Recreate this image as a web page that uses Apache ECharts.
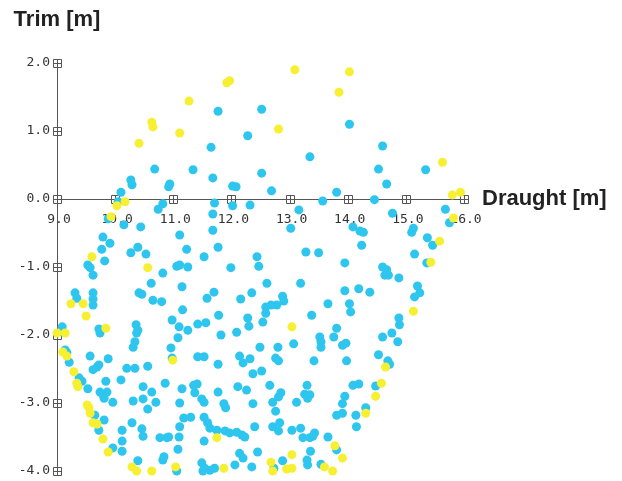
<!DOCTYPE html>
<html>
<head>
<meta charset="utf-8">
<script src="https://cdn.jsdelivr.net/npm/echarts@6/dist/echarts.min.js"></script>
<style>
  html, body { margin: 0; padding: 0; background: #ffffff; }
  #chart { width: 622px; height: 481px; }
</style>
</head>
<body>
<div id="chart"></div>
<script>
// Axis ticks
const draughtTicks = [9, 10, 11, 12, 13, 14, 15, 16];
const trimTicks = [-4, -3, -2, -1, 0, 1, 2];

// Loading conditions inside the envelope [draught m, trim m]
const innerPoints = [
  [11.77,1.29],[12.52,1.32],[12.28,0.93],[11.65,0.76],[13.35,0.62],[10.68,0.44],[11.34,0.43],[12.52,0.38],
  [11.68,0.31],[10.27,0.28],[10.29,0.21],[10.94,0.22],[10.92,0.18],[12.02,0.19],[12.08,0.18],[12.69,0.12],
  [10.10,0.10],[14.03,1.10],[14.60,0.78],[14.53,0.44],[15.34,0.43],[14.67,0.22],[13.81,0.10],
  [10.05,-0.04],[9.88,-0.29],[11.71,-0.06],[12.32,-0.09],[10.82,-0.07],[10.74,-0.15],[12.02,-0.10],[13.16,-0.16],
  [11.68,-0.22],[10.15,-0.38],[10.44,-0.41],[11.68,-0.46],[11.11,-0.53],[13.02,-0.43],[9.79,-0.56],[9.91,-0.65],
  [13.57,-0.03],[14.46,-0.01],[14.77,-0.21],[15.68,-0.15],[15.75,-0.35],[14.09,-0.41],[14.21,-0.47],[14.27,-0.49],
  [15.10,-0.49],[15.13,-0.43],[15.37,-0.57],[15.46,-0.68],[14.24,-0.68],
  [9.77,-0.74],[10.39,-0.71],[10.53,-0.81],[10.27,-0.79],[9.82,-0.91],[9.53,-0.97],[9.57,-1.01],[9.62,-1.12],
  [11.23,-0.74],[11.77,-0.71],[11.53,-0.85],[11.06,-0.99],[11.11,-0.97],[11.25,-1.00],[11.99,-1.01],[10.82,-1.09],
  [12.44,-0.85],[12.47,-0.99],[13.28,-0.78],[13.50,-0.79],[13.95,-0.94],[15.15,-0.81],[14.60,-1.00],[14.67,-1.04],
  [14.64,-1.12],[14.70,-1.12],[14.88,-1.16],[15.36,-0.94],[10.62,-1.24],[11.15,-1.29],[11.70,-1.37],[10.41,-1.38],
  [10.46,-1.40],[9.31,-1.38],[9.34,-1.46],[9.62,-1.38],[9.62,-1.47],[9.62,-1.56],[10.65,-1.49],[11.58,-1.46],
  [12.16,-1.47],[12.35,-1.38],[12.61,-1.24],[13.19,-1.24],[13.95,-1.35],[14.19,-1.32],[14.38,-1.37],[15.20,-1.28],
  [15.24,-1.38],[15.15,-1.44],[12.88,-1.43],[12.90,-1.50],
  [10.80,-1.51],[12.59,-1.59],[12.68,-1.56],[12.78,-1.56],[13.66,-1.54],[14.03,-1.54],[14.05,-1.66],[11.16,-1.63],
  [11.78,-1.71],[13.38,-1.71],[10.98,-1.78],[11.10,-1.88],[11.25,-1.93],[11.42,-1.84],[11.56,-1.82],[12.28,-1.75],
  [12.30,-1.87],[12.09,-1.96],[11.82,-2.00],[12.59,-1.68],[12.54,-1.81],[14.88,-1.75],[14.89,-1.85],[14.60,-2.03],
  [14.76,-1.97],[14.86,-2.10],[13.81,-1.90],[13.76,-2.03],[13.52,-2.03],[13.54,-2.10],[13.54,-2.18],[13.97,-2.12],
  [13.91,-2.15],[12.80,-2.18],[13.07,-2.13],[12.49,-2.18],[9.09,-1.88],[9.10,-1.96],[9.72,-1.91],[9.74,-1.97],
  [10.36,-1.85],[10.39,-1.93],[10.37,-1.97],[10.34,-2.10],[10.31,-2.18],[11.08,-2.04],[10.96,-2.19],[10.98,-2.34],
  [11.42,-2.32],[11.53,-2.32],[11.77,-2.43],[12.14,-2.31],[12.20,-2.41],[12.32,-2.35],[12.76,-2.34],[12.81,-2.38],
  [13.42,-2.38],[13.98,-2.38],[14.53,-2.29],[14.69,-2.38],[14.72,-2.43],[9.14,-2.22],[9.17,-2.26],[9.21,-2.40],
  [9.57,-2.31],[9.88,-2.35],
  [9.69,-2.47],[9.72,-2.44],[9.62,-2.51],[10.20,-2.49],[10.34,-2.49],[10.56,-2.46],[9.38,-2.63],[9.43,-2.68],
  [9.53,-2.79],[9.84,-2.68],[10.10,-2.66],[9.74,-2.84],[9.79,-2.88],[9.86,-2.84],[9.81,-2.93],[9.96,-2.99],
  [10.48,-2.76],[10.63,-2.84],[10.31,-2.97],[10.48,-2.94],[10.70,-2.99],[10.86,-2.71],[11.15,-2.79],[11.35,-2.74],
  [11.41,-2.72],[11.37,-2.85],[11.49,-2.94],[11.53,-2.99],[11.77,-2.84],[12.11,-2.76],[12.26,-2.81],[11.87,-3.01],
  [11.90,-3.07],[12.37,-3.01],[11.11,-3.00],[10.56,-3.09],[12.37,-2.57],[12.52,-2.53],[12.66,-2.74],[12.85,-2.85],
  [12.81,-2.91],[12.71,-2.99],[13.30,-2.74],[13.26,-2.87],[13.35,-2.88],[13.31,-2.93],[13.12,-2.99],[12.76,-3.12],
  [13.95,-2.90],[13.91,-3.01],[14.09,-2.74],[14.19,-2.72],[14.48,-2.75],[14.31,-3.07],[14.14,-3.18],[13.81,-3.18],
  [13.91,-3.15],[9.65,-3.18],[9.81,-3.25],[11.18,-3.22],[11.30,-3.21],[11.53,-3.21],[11.59,-3.29],
  [9.72,-3.40],[10.12,-3.40],[10.29,-3.29],[10.46,-3.38],[10.48,-3.49],[10.12,-3.56],[11.63,-3.37],[11.11,-3.35],
  [11.53,-3.56],[11.75,-3.40],[11.89,-3.41],[11.97,-3.44],[12.09,-3.43],[12.18,-3.47],[12.23,-3.50],[12.40,-3.35],
  [12.71,-3.35],[12.83,-3.29],[12.81,-3.41],[13.04,-3.40],[13.19,-3.37],[13.23,-3.51],[13.43,-3.44],[13.40,-3.49],
  [13.35,-3.51],[13.66,-3.50],[14.15,-3.35],[10.77,-3.51],[10.89,-3.51],[10.92,-3.50],[11.10,-3.50],[9.96,-3.66],
  [10.12,-3.71],[11.08,-3.68],[10.84,-3.79],[10.82,-3.84],[12.14,-3.74],[12.20,-3.81],[12.45,-3.72],[10.39,-3.85],
  [13.81,-3.69],[13.36,-3.71],[12.88,-3.85],[13.30,-3.84],[13.31,-3.91],[13.54,-3.90],[11.49,-3.88],[11.54,-3.96],
  [11.63,-3.99],[11.71,-3.96],[11.51,-4.00],[12.06,-3.91],[12.35,-3.94],[12.73,-3.96],[11.06,-4.00]
];

// Loading conditions on the envelope boundary [draught m, trim m]
const boundaryPoints = [
  [13.09,1.90],[11.92,1.71],[11.97,1.74],[11.27,1.44],[10.63,1.13],[10.65,1.06],[11.11,0.97],[10.41,0.82],
  [12.81,1.03],[10.03,-0.10],[10.17,-0.04],[9.93,-0.26],[14.03,1.87],[13.85,1.57],[15.63,0.54],[15.80,0.06],
  [15.94,0.10],[15.82,-0.28],[15.58,-0.62],[15.43,-0.93],[9.60,-0.85],[10.56,-1.01],[9.24,-1.54],[9.45,-1.54],
  [9.50,-1.72],[9.84,-1.90],[9.00,-1.97],[9.14,-1.97],[13.04,-1.88],[9.10,-2.25],[9.17,-2.31],[10.99,-2.37],
  [9.29,-2.54],[9.34,-2.71],[9.36,-2.76],[9.52,-3.03],[9.55,-3.07],[9.57,-3.15],[9.62,-3.29],[9.69,-3.31],
  [9.79,-3.53],[9.88,-3.72],[10.29,-3.94],[10.37,-4.00],[10.63,-4.00],[11.04,-3.94],[11.75,-3.51],[11.87,-3.96],
  [12.68,-3.87],[12.71,-4.00],[12.95,-3.97],[13.04,-3.96],[13.04,-3.76],[13.60,-3.94],[13.74,-4.00],[13.78,-3.63],
  [13.91,-3.81],[14.31,-3.15],[14.58,-2.71],[14.48,-2.90],[14.65,-2.47],[15.13,-1.65]
];

const innerColor = '#2ec6ee';
const boundaryColor = '#f7f032';
const axisColor = '#555555';
const labelColor = '#333333';

// Square "⊞" tick markers on both axes
const tickMarks = draughtTicks.slice(1).map(d => [d, 0]).concat(trimTicks.map(t => [draughtTicks[0], t]));
// Draught tick labels sit under the zero-trim line
const draughtLabels = draughtTicks.map(d => [d, 0, d.toFixed(1)]);

const chart = echarts.init(document.getElementById('chart'), null, { renderer: 'canvas' });

chart.setOption({
  animation: false,
  backgroundColor: '#ffffff',
  grid: { left: 57, right: 158, top: 63, bottom: 10, containLabel: false, outerBoundsMode: 'none' },
  xAxis: {
    type: 'value',
    min: draughtTicks[0],
    max: draughtTicks[draughtTicks.length - 1],
    interval: 1,
    name: 'Draught [m]',
    nameLocation: 'end',
    nameGap: 18,
    nameTextStyle: { fontFamily: 'Liberation Sans', fontWeight: 'bold', fontSize: 22, color: '#222222', verticalAlign: 'middle' },
    axisLine: { onZero: true, lineStyle: { color: axisColor, width: 1 } },
    axisTick: { show: false },
    splitLine: { show: false },
    axisLabel: { show: false }
  },
  yAxis: {
    type: 'value',
    min: trimTicks[0],
    max: trimTicks[trimTicks.length - 1],
    interval: 1,
    name: 'Trim [m]',
    nameLocation: 'end',
    nameGap: 32,
    nameTextStyle: { fontFamily: 'Liberation Sans', fontWeight: 'bold', fontSize: 22, color: '#222222', align: 'center' },
    axisLine: { onZero: false, lineStyle: { color: axisColor, width: 1 } },
    axisTick: { show: false },
    splitLine: { show: false },
    axisLabel: {
      margin: 7, showMinLabel: true, showMaxLabel: true,
      formatter: v => v.toFixed(1),
      fontFamily: 'DejaVu Sans Mono', fontSize: 13, color: labelColor
    }
  },
  series: [
    {
      type: 'custom',
      z: 1,
      data: draughtLabels,
      clip: false,
      renderItem: function (params, api) {
        const p = api.coord([api.value(0), api.value(1)]);
        return {
          type: 'text',
          x: p[0] + 2,
          y: p[1] + 14,
          style: {
            text: draughtLabels[params.dataIndex][2],
            fontFamily: 'DejaVu Sans Mono',
            fontSize: 13,
            fill: labelColor,
            align: 'center',
            verticalAlign: 'top'
          }
        };
      }
    },
    {
      type: 'custom',
      z: 2,
      data: tickMarks,
      clip: false,
      renderItem: function (params, api) {
        const p = api.coord([api.value(0), api.value(1)]);
        const cx = Math.round(p[0]) + 0.5, cy = Math.round(p[1]) + 0.5, h = 4;
        const st = { stroke: axisColor, lineWidth: 1, fill: null };
        return {
          type: 'group',
          children: [
            { type: 'rect', shape: { x: cx - h, y: cy - h, width: 2 * h, height: 2 * h }, style: { stroke: axisColor, lineWidth: 1, fill: '#ffffff' } },
            { type: 'line', shape: { x1: cx, y1: cy - h, x2: cx, y2: cy + h }, style: st },
            { type: 'line', shape: { x1: cx - h, y1: cy, x2: cx + h, y2: cy }, style: st }
          ]
        };
      }
    },
    {
      type: 'scatter',
      z: 3,
      clip: false,
      symbol: 'circle',
      symbolSize: 9,
      itemStyle: { color: innerColor, opacity: 1 },
      data: innerPoints
    },
    {
      type: 'scatter',
      z: 4,
      clip: false,
      symbol: 'circle',
      symbolSize: 9,
      itemStyle: { color: boundaryColor, opacity: 1 },
      data: boundaryPoints
    }
  ]
});
</script>
</body>
</html>
